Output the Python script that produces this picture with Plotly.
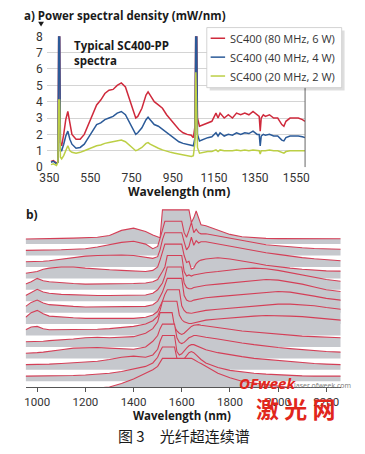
import plotly.graph_objects as go

# the page body adds an 8 px margin, so the figure is drawn 8 px in from the top-left corner
OFF = 8
W, H = 365 - OFF, 454 - OFF
def px(x): return (x - OFF) / W
def py(y): return 1 - (y - OFF) / H

# ---------------- panel a data ----------------
wl_a = [358, 370, 385, 392, 396, 400, 404, 410, 420, 430, 440, 450, 460, 480, 500, 520, 540, 560, 580, 600,
        620, 640, 660, 680, 700, 720, 740, 760, 770, 780, 800, 820, 830, 840, 860, 880, 900, 920, 940, 960,
        980, 1000, 1020, 1040, 1050, 1058, 1062, 1066, 1070, 1080, 1100, 1120, 1140, 1160, 1170, 1180, 1200,
        1220, 1240, 1260, 1280, 1300, 1320, 1340, 1360, 1370, 1375, 1380, 1390, 1400, 1420, 1440, 1460, 1480,
        1490, 1500, 1520, 1540, 1560, 1580, 1593]
red_80 = [0.35, 0.4, 0.25, 0.3, 9, 9, 1.5, 1.3, 2.0, 2.9, 3.4, 2.6, 2.0, 1.7, 1.7, 2.0, 2.6, 3.2, 3.8, 4.1,
          4.5, 4.7, 4.75, 5.0, 5.15, 4.9, 4.1, 3.3, 3.0, 3.1, 3.6, 4.4, 4.6, 4.4, 4.0, 3.8, 3.6, 3.2, 2.9, 2.6,
          2.3, 2.1, 2.0, 1.95, 1.8, 2.5, 9, 9, 3.0, 2.5, 2.6, 2.7, 2.8, 3.3, 3.0, 3.3, 3.0,
          3.2, 3.0, 3.3, 3.2, 3.3, 3.2, 3.4, 3.2, 3.1, 2.2, 3.0, 3.2, 3.1, 3.2, 3.0, 3.0, 2.6,
          2.5, 2.8, 3.0, 3.0, 3.0, 2.9, 2.8]
blue_40 = [0.3, 0.35, 0.2, 0.3, 9, 9, 1.0, 1.0, 1.4, 1.9, 2.2, 1.7, 1.4, 1.15, 1.2, 1.4, 1.8, 2.2, 2.6, 2.7,
           2.9, 3.0, 3.1, 3.3, 3.4, 3.2, 2.7, 2.2, 2.0, 2.1, 2.4, 2.9, 3.05, 2.9, 2.6, 2.5, 2.3, 2.1, 1.9, 1.7,
           1.55, 1.45, 1.4, 1.35, 1.3, 1.8, 9, 9, 2.0, 1.6, 1.7, 1.8, 1.85, 2.1, 1.9, 2.1, 1.9,
           2.0, 1.95, 2.1, 2.0, 2.1, 2.05, 2.2, 2.0, 2.0, 1.3, 1.9, 2.0, 1.95, 2.0, 1.9, 1.9, 1.65,
           1.6, 1.8, 1.9, 1.9, 1.9, 1.85, 1.8]
green_20 = [0.15, 0.2, 0.1, 0.3, 4.1, 4.1, 0.6, 0.5, 0.7, 1.0, 1.3, 1.0, 0.9, 0.85, 0.9, 1.0, 1.1, 1.2, 1.3, 1.35,
            1.45, 1.5, 1.55, 1.6, 1.65, 1.55, 1.35, 1.1, 1.0, 1.05, 1.2, 1.45, 1.5, 1.4, 1.25, 1.15, 1.05, 0.95, 0.9, 0.85,
            0.8, 0.75, 0.7, 0.65, 0.7, 1.5, 5.8, 4.0, 1.2, 0.85, 0.9, 0.95, 0.95, 1.05, 0.95, 1.05, 1.0,
            1.0, 1.0, 1.05, 1.0, 1.05, 1.0, 1.05, 1.0, 1.0, 0.8, 1.0, 1.0, 1.0, 1.05, 1.0, 1.0, 0.9,
            0.85, 0.95, 1.0, 1.0, 1.0, 1.0, 1.0]
series_names = ["SC400 (80 MHz, 6 W)", "SC400 (40 MHz, 4 W)", "SC400 (20 MHz, 2 W)"]
series_colors = ["#cf2a3c", "#2b5a98", "#bccf45"]
x_ticks_a = [350, 550, 750, 950, 1150, 1350, 1550]
y_ticks_a = [0, 1, 2, 3, 4, 5, 6, 7, 8]

# ---------------- panel b data (waterfall, front trace first) ----------------
wl_b = [952, 975, 1000, 1025, 1050, 1100, 1150, 1200, 1250, 1300, 1350, 1400, 1450, 1480, 1500, 1510, 1520,
        1530, 1540, 1550, 1560, 1570, 1580, 1590, 1600, 1610, 1620, 1630, 1640, 1650, 1660, 1670, 1680, 1700,
        1750, 1800, 1850, 1900, 1950, 2000, 2050, 2100, 2150, 2200, 2260]
spec_00 = [0.4, 0.4, 0.4, 0.4, 0.4, 0.4, 0.4, 0.4, 0.4, 0.5, 0.8, 1.2, 1.7, 2.0, 2.3, 2.6, 3, 3, 3, 3, 3, 3, 3, 3, 3, 3, 3, 3, 3, 2.9, 2.75, 2.65, 2.55, 2.3, 1.7, 1.3, 1.0, 0.85, 0.7, 0.55, 0.45, 0.4, 0.4, 0.4, 0.4]
spec_01 = [0.45, 0.45, 0.45, 0.45, 0.45, 0.45, 0.5, 0.55, 0.6, 0.7, 0.85, 1.1, 1.3, 1.6, 2.1, 2.6, 3, 3, 3, 3, 3, 3, 2.0, 1.6, 1.7, 2.0, 2.3, 2.5, 2.6, 2.5, 2.3, 2.1, 1.9, 1.6, 1.2, 0.95, 0.8, 0.7, 0.62, 0.55, 0.5, 0.47, 0.45, 0.45, 0.45]
spec_02 = [0.45, 0.45, 0.45, 0.45, 0.5, 0.55, 0.6, 0.65, 0.75, 0.9, 1.1, 1.2, 1.1, 1.3, 1.8, 2.5, 3, 3, 3, 3, 3, 3, 1.6, 1.3, 1.4, 1.7, 1.9, 2.1, 2.2, 2.2, 2.1, 2.0, 1.9, 1.75, 1.5, 1.3, 1.15, 1.0, 0.9, 0.8, 0.7, 0.62, 0.55, 0.5, 0.45]
spec_03 = [0.45, 0.45, 0.5, 0.55, 0.6, 0.75, 0.9, 0.95, 0.95, 0.9, 0.85, 0.8, 1.0, 1.5, 2.0, 2.6, 3, 3, 3, 3, 3, 3, 1.8, 1.4, 1.3, 1.4, 1.6, 1.8, 1.9, 2.0, 2.0, 1.95, 1.9, 1.85, 1.7, 1.5, 1.35, 1.2, 1.05, 0.95, 0.85, 0.75, 0.65, 0.6, 0.55]
spec_04 = [0.45, 0.45, 0.45, 0.5, 0.55, 0.6, 0.7, 0.8, 0.85, 0.8, 0.85, 0.9, 1.2, 1.6, 2.2, 3, 3, 3, 3, 3, 3, 1.8, 1.4, 1.2, 1.1, 1.2, 1.4, 1.6, 1.8, 1.9, 1.95, 1.95, 1.9, 1.85, 1.7, 1.55, 1.4, 1.3, 1.2, 1.1, 1.0, 0.95, 0.9, 0.85, 0.8]
spec_05 = [0.5, 0.75, 0.8, 0.6, 0.5, 0.5, 0.5, 0.5, 0.55, 0.6, 0.7, 0.8, 1.0, 1.3, 1.7, 2.2, 3, 3, 3, 3, 3, 3, 3, 1.8, 1.4, 1.2, 1.1, 1.05, 1.05, 1.1, 1.2, 1.25, 1.3, 1.35, 1.45, 1.55, 1.65, 1.7, 1.75, 1.75, 1.7, 1.65, 1.55, 1.45, 1.35]
spec_06 = [0.6, 1.0, 1.2, 0.9, 0.7, 0.6, 0.55, 0.5, 0.5, 0.5, 0.5, 0.5, 0.6, 0.8, 1.1, 1.5, 2.0, 2.6, 3, 3, 3, 3, 3, 3, 1.6, 1.2, 1.0, 0.95, 0.95, 1.0, 1.05, 1.1, 1.15, 1.2, 1.3, 1.4, 1.5, 1.6, 1.7, 1.75, 1.75, 1.7, 1.6, 1.45, 1.3]
spec_07 = [0.55, 0.9, 1.1, 0.85, 0.7, 0.6, 0.55, 0.5, 0.5, 0.5, 0.5, 0.5, 0.55, 0.7, 1.0, 1.4, 1.8, 2.4, 3, 3, 3, 3, 3, 3, 3, 1.5, 1.1, 1.0, 1.0, 1.1, 1.15, 1.2, 1.25, 1.3, 1.4, 1.5, 1.6, 1.7, 1.8, 1.85, 1.8, 1.65, 1.45, 1.25, 1.1]
spec_08 = [0.5, 0.8, 1.05, 0.8, 0.7, 0.6, 0.55, 0.5, 0.5, 0.5, 0.5, 0.5, 0.55, 0.7, 1.0, 1.3, 1.6, 2.2, 3, 3, 3, 3, 3, 3, 3, 1.6, 1.2, 1.1, 1.1, 1.2, 1.25, 1.3, 1.35, 1.4, 1.5, 1.6, 1.7, 1.8, 1.9, 1.85, 1.7, 1.5, 1.25, 1.0, 0.85]
spec_09 = [0.5, 0.7, 1.0, 0.8, 0.7, 0.6, 0.55, 0.5, 0.5, 0.5, 0.5, 0.55, 0.6, 0.7, 0.9, 1.2, 1.6, 2.0, 3, 3, 3, 3, 3, 3, 3, 1.6, 1.2, 1.3, 1.2, 1.3, 1.35, 1.4, 1.45, 1.5, 1.6, 1.75, 1.85, 1.9, 1.85, 1.7, 1.5, 1.3, 1.1, 0.9, 0.75]
spec_10 = [0.45, 0.5, 0.6, 0.8, 0.9, 1.0, 1.0, 0.9, 0.8, 0.75, 0.7, 0.65, 0.6, 0.7, 1.0, 1.6, 2.4, 3, 3, 3, 3, 3, 3, 3, 3, 2.0, 1.4, 1.5, 0.8, 0.9, 1.3, 1.5, 1.6, 1.7, 1.8, 1.7, 1.55, 1.35, 1.15, 1.0, 0.9, 0.8, 0.72, 0.66, 0.64]
spec_11 = [0.45, 0.45, 0.45, 0.5, 0.55, 0.7, 0.85, 0.95, 1.0, 1.05, 1.05, 1.0, 0.85, 0.75, 0.9, 1.5, 2.4, 3, 3, 3, 3, 3, 3, 3, 3, 2.2, 1.5, 1.8, 2.6, 1.9, 2.3, 2.1, 2.2, 2.2, 2.0, 1.8, 1.6, 1.4, 1.25, 1.1, 0.95, 0.82, 0.72, 0.63, 0.55]
spec_12 = [0.45, 0.45, 0.45, 0.45, 0.45, 0.5, 0.55, 0.6, 0.75, 0.95, 1.15, 1.25, 1.0, 0.6, 0.8, 1.5, 2.3, 3, 3, 3, 3, 3, 3, 3, 3, 2.0, 1.6, 2.2, 2.9, 2.0, 2.3, 2.0, 1.9, 1.9, 1.7, 1.5, 1.3, 1.1, 0.95, 0.85, 0.75, 0.68, 0.62, 0.58, 0.55]
spec_13 = [0.45, 0.45, 0.45, 0.45, 0.47, 0.5, 0.52, 0.55, 0.6, 0.75, 1.2, 1.4, 1.1, 0.8, 0.6, 0.55, 3, 3, 3, 3, 3, 3, 3, 3, 3, 3, 3, 3, 1.9, 2.3, 2.9, 2.3, 1.7, 1.6, 1.2, 0.85, 0.65, 0.55, 0.5, 0.48, 0.47, 0.47, 0.47, 0.47, 0.47]
spectra_b = [spec_00, spec_01, spec_02, spec_03, spec_04, spec_05, spec_06, spec_07, spec_08, spec_09,
             spec_10, spec_11, spec_12, spec_13]
x_ticks_b = [1000, 1200, 1400, 1600, 1800, 2000, 2200]

fig = go.Figure()

# panel a lines
for vals, name, col in zip([red_80, blue_40, green_20], series_names, series_colors):
    fig.add_trace(go.Scatter(x=wl_a, y=vals, mode="lines", name=name, showlegend=False,
                             line=dict(color=col, width=1.5), xaxis="x", yaxis="y"))

# panel b waterfall: back (top) to front (bottom)
fill_col = "#c6c8cd"
line_col = "#d43f57"
for i in range(len(spectra_b) - 1, -1, -1):
    base = i - 0.5
    vals = spectra_b[i]
    top = [base + v for v in vals]
    fig.add_trace(go.Scatter(x=wl_b + wl_b[::-1], y=top + [base] * len(wl_b), mode="lines",
                             fill="toself", fillcolor=fill_col, line=dict(width=0), hoverinfo="skip",
                             showlegend=False, xaxis="x2", yaxis="y2"))
    fig.add_trace(go.Scatter(x=wl_b, y=top, mode="lines", line=dict(color=line_col, width=1.1),
                             showlegend=False, xaxis="x2", yaxis="y2"))

tick_font = dict(family="Liberation Sans Narrow, Roboto, sans-serif", size=12, color="#333")
tick_font_b = dict(family="Liberation Sans Narrow, Roboto, sans-serif", size=11.5, color="#333")
bold = "Open Sans, DejaVu Sans, sans-serif"

fig.update_layout(
    width=W, height=H, margin=dict(l=0, r=0, t=0, b=0),
    paper_bgcolor="white", plot_bgcolor="white",
    xaxis=dict(domain=[px(40), px(308)], range=[338, 1593], tickvals=x_ticks_a, showgrid=False,
               zeroline=False, showline=False, ticks="", tickfont=tick_font, anchor="y",
               ticklabelstandoff=2),
    yaxis=dict(domain=[py(165), py(30)], range=[0, 8], tickvals=y_ticks_a, showgrid=True,
               gridcolor="#d4d4d4", gridwidth=1, zeroline=False, showline=False, ticks="",
               tickfont=tick_font, anchor="x", ticklabelstandoff=3),
    xaxis2=dict(domain=[px(18), px(345)], range=[952, 2260], tickvals=x_ticks_b, showgrid=False,
                zeroline=False, showline=True, linecolor="#555", linewidth=1, ticks="outside",
                ticklen=4, tickcolor="#555", tickfont=tick_font_b, anchor="y2"),
    yaxis2=dict(domain=[py(392), py(205.6)], range=[0, 15.8], visible=False, anchor="x2"),
)

shapes = []
# small marker triangle under the panel-a title
shapes.append(dict(type="path", xref="paper", yref="paper",
                   path=f"M {px(31)},{py(15)} L {px(37)},{py(15)} L {px(34)},{py(20)} Z",
                   fillcolor="#1a1a1a", line=dict(width=0)))
# right border of panel a
shapes.append(dict(type="line", xref="paper", yref="paper", x0=px(308), x1=px(308), y0=py(165), y1=py(30),
                   line=dict(color="#666", width=1)))
# legend box with shadow
shapes.append(dict(type="rect", xref="paper", yref="paper", x0=px(209), x1=px(349), y0=py(86), y1=py(24),
                   fillcolor="rgba(0,0,0,0.13)", line=dict(width=0)))
shapes.append(dict(type="rect", xref="paper", yref="paper", x0=px(206), x1=px(346), y0=py(83), y1=py(21),
                   fillcolor="white", line=dict(color="#c8c8c8", width=0.8)))
annotations = []
for k, (name, col) in enumerate(zip(series_names, series_colors)):
    yy = 32 + k * 19.5
    shapes.append(dict(type="line", xref="paper", yref="paper", x0=px(210), x1=px(225), y0=py(yy), y1=py(yy),
                       line=dict(color=col, width=1.5)))
    annotations.append(dict(text=name, xref="paper", yref="paper", x=px(228), y=py(yy), xanchor="left",
                            yanchor="middle", showarrow=False,
                            font=dict(family="Open Sans, sans-serif", size=11, color="#333")))

def ann(text, x, y, size, family=bold, color="#1a1a1a", xanchor="left", **kw):
    annotations.append(dict(text=text, xref="paper", yref="paper", x=px(x), y=py(y), xanchor=xanchor,
                            yanchor="middle", showarrow=False, font=dict(family=family, size=size, color=color), **kw))

ann("<b>a) Power spectral density (mW/nm)</b>", 14, 8, 11.5)
ann("<b>Typical SC400-PP<br>spectra</b>", 66, 47, 11.5, align="left")
ann("<b>Wavelength (nm)</b>", 177, 190, 12, xanchor="center")
ann("<b>b)</b>", 16, 214, 12)
ann("<b>Wavelength (nm)</b>", 180, 421, 11.5, xanchor="center")
ann("图 3　光纤超连续谱", 182, 442, 15, family="Noto Sans CJK SC, sans-serif", xanchor="center")
# watermark
ann("<b><i>OFweek</i></b>", 237, 388, 15, family="Open Sans, sans-serif", color="#e1261c")
ann("laser.ofweek.com", 294, 390, 7, family="Open Sans, sans-serif", color="#777")
ann("<b>激 光 网</b>", 298, 414, 23, family="Noto Sans CJK SC, sans-serif", color="#e1261c", xanchor="center")

fig.update_layout(shapes=shapes, annotations=annotations)
fig.write_html("out.html")
